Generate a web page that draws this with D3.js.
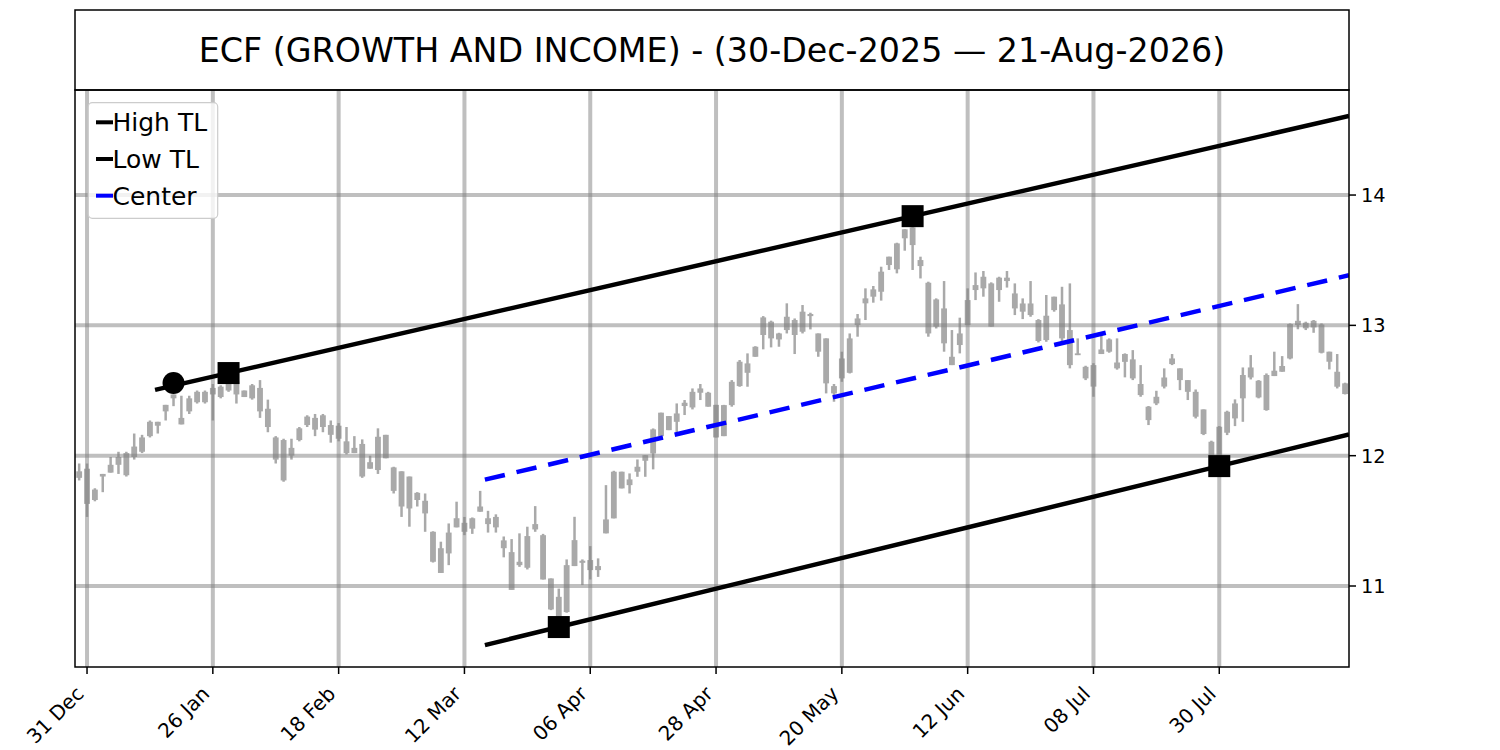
<!DOCTYPE html>
<html>
<head>
<meta charset="utf-8">
<script src="https://cdn.jsdelivr.net/npm/d3@7/dist/d3.min.js"></script>
<style>
  body { margin: 0; background: #fff; }
  svg { display: block; font-family: "DejaVu Sans", sans-serif; }
</style>
</head>
<body>
<svg id="chart" width="1500" height="750"></svg>
<script>
// ---- data (bar index 0 = 31 Dec 2025, -1 = 30 Dec 2025) ----
const firstIndex = -1;
const open = [
  11.88, 11.90, 11.66, 11.84, 11.87, 11.93, 12.02, 11.99, 12.03, 12.15,
  12.26, 12.34, 12.44, 12.29, 12.34, 12.41, 12.49, 12.47, 12.53, 12.50,
  12.57, 12.45, 12.44, 12.52, 12.36, 12.14, 12.12, 12.00, 12.12, 12.235,
  12.29, 12.22, 12.235, 12.13, 12.11, 12.02, 12.09, 11.90, 11.89, 12.16,
  11.91, 11.88, 11.84, 11.66, 11.654, 11.416, 11.29, 11.25, 11.45, 11.485,
  11.44, 11.57, 11.52, 11.45, 11.35, 11.26, 11.16, 11.14, 11.434, 11.39,
  11.058, 10.917, 10.80, 11.153, 11.194, 11.122, 11.153, 11.404, 11.519, 11.877,
  11.774, 11.877, 11.961, 12.017, 12.15, 12.304, 12.26, 12.381, 12.37, 12.483,
  12.483, 12.39, 12.15, 12.388, 12.534, 12.708, 12.759, 12.926, 13.028, 12.892,
  12.964, 13.041, 12.951, 13.087, 12.938, 12.90, 12.534, 12.593, 12.636, 13.002,
  13.169, 13.22, 13.258, 13.463, 13.43, 13.668, 13.752, 13.501, 13.327, 12.99,
  13.13, 12.759, 12.849, 13.002, 13.271, 13.284, 13.322, 13.271, 13.366, 13.245,
  13.105, 13.168, 13.041, 12.887, 13.117, 13.161, 12.964, 12.772, 12.682, 12.53,
  12.78, 12.798, 12.715, 12.72, 12.739, 12.55, 12.376, 12.401, 12.53, 12.703,
  12.67, 12.58, 12.49, 12.355, 12.107, 11.99, 12.176, 12.286, 12.44, 12.6,
  12.575, 12.35, 12.611, 12.644, 12.746, 13.002, 13.02, 12.984, 13.007, 12.798,
  12.644, 12.473
];
const high = [
  11.94, 11.94, 11.75, 11.86, 11.99, 12.03, 12.03, 12.17, 12.16, 12.27,
  12.26, 12.39, 12.47, 12.46, 12.46, 12.50, 12.50, 12.55, 12.54, 12.56,
  12.61, 12.50, 12.55, 12.58, 12.43, 12.15, 12.13, 12.13, 12.22, 12.31,
  12.32, 12.32, 12.27, 12.25, 12.22, 12.15, 12.125, 12.00, 12.21, 12.16,
  11.915, 11.88, 11.84, 11.72, 11.71, 11.42, 11.34, 11.48, 11.647, 11.53,
  11.526, 11.73, 11.577, 11.55, 11.38, 11.36, 11.404, 11.455, 11.613, 11.40,
  11.058, 10.98, 11.204, 11.531, 11.204, 11.306, 11.212, 11.774, 11.884, 11.877,
  11.864, 11.971, 12.004, 12.209, 12.33, 12.304, 12.401, 12.427, 12.516, 12.55,
  12.49, 12.39, 12.39, 12.58, 12.734, 12.785, 12.84, 13.071, 13.036, 12.943,
  13.169, 13.053, 13.156, 13.097, 12.938, 12.90, 12.55, 12.798, 12.938, 13.087,
  13.284, 13.302, 13.45, 13.527, 13.634, 13.737, 13.757, 13.527, 13.335, 13.207,
  13.34, 12.964, 13.059, 13.284, 13.406, 13.417, 13.33, 13.373, 13.417, 13.322,
  13.207, 13.34, 13.048, 13.233, 13.22, 13.296, 13.322, 12.90, 12.69, 12.71,
  12.933, 12.90, 12.90, 12.785, 12.81, 12.695, 12.381, 12.498, 12.67, 12.78,
  12.67, 12.58, 12.508, 12.355, 12.115, 12.227, 12.345, 12.432, 12.677, 12.772,
  12.58, 12.631, 12.798, 12.764, 13.015, 13.163, 13.028, 13.041, 13.015, 12.798,
  12.78, 12.56
];
const low = [
  11.81, 11.53, 11.65, 11.72, 11.87, 11.86, 11.84, 11.97, 12.02, 12.14,
  12.17, 12.27, 12.38, 12.24, 12.32, 12.40, 12.40, 12.27, 12.44, 12.49,
  12.40, 12.45, 12.43, 12.29, 12.18, 11.94, 11.80, 11.97, 12.11, 12.22,
  12.15, 12.18, 12.10, 12.11, 12.01, 12.02, 11.83, 11.90, 11.86, 11.98,
  11.71, 11.53, 11.455, 11.61, 11.416, 11.18, 11.10, 11.16, 11.45, 11.39,
  11.40, 11.57, 11.41, 11.41, 11.22, 10.97, 11.147, 11.127, 11.416, 11.05,
  10.815, 10.764, 10.795, 11.153, 11.007, 11.05, 11.07, 11.404, 11.519, 11.749,
  11.71, 11.838, 11.838, 11.895, 12.15, 12.196, 12.176, 12.312, 12.355, 12.427,
  12.376, 12.14, 12.15, 12.376, 12.529, 12.529, 12.759, 12.816, 12.831, 12.836,
  12.938, 12.78, 12.938, 12.969, 12.759, 12.478, 12.414, 12.567, 12.631, 12.913,
  13.041, 13.174, 13.19, 13.425, 13.399, 13.573, 13.425, 13.36, 12.913, 12.976,
  12.798, 12.695, 12.785, 13.002, 13.194, 13.22, 12.99, 13.181, 13.29, 13.079,
  13.048, 13.066, 12.869, 12.874, 13.105, 12.87, 12.67, 12.772, 12.58, 12.452,
  12.78, 12.79, 12.66, 12.601, 12.58, 12.452, 12.235, 12.388, 12.516, 12.695,
  12.503, 12.427, 12.286, 12.158, 12.00, 11.92, 12.158, 12.227, 12.26, 12.585,
  12.44, 12.345, 12.611, 12.644, 12.739, 12.97, 12.964, 12.943, 12.785, 12.662,
  12.516, 12.47
];
const close = [
  11.83, 11.63, 11.74, 11.86, 11.93, 11.99, 11.85, 12.07, 12.14, 12.26,
  12.23, 12.39, 12.47, 12.24, 12.44, 12.49, 12.41, 12.52, 12.45, 12.55,
  12.47, 12.50, 12.54, 12.34, 12.22, 11.97, 11.81, 12.06, 12.21, 12.30,
  12.20, 12.31, 12.16, 12.23, 12.02, 12.06, 11.84, 11.95, 12.145, 11.98,
  11.73, 11.61, 11.595, 11.715, 11.557, 11.186, 11.10, 11.41, 11.52, 11.416,
  11.52, 11.61, 11.475, 11.53, 11.29, 10.97, 11.186, 11.383, 11.475, 11.05,
  10.82, 10.764, 11.16, 11.352, 11.178, 11.199, 11.122, 11.511, 11.877, 11.749,
  11.818, 11.915, 12.004, 12.202, 12.33, 12.196, 12.324, 12.406, 12.49, 12.516,
  12.376, 12.14, 12.388, 12.567, 12.721, 12.636, 12.836, 13.061, 12.90, 12.938,
  13.066, 12.926, 13.105, 13.071, 12.798, 12.555, 12.478, 12.746, 12.90, 13.053,
  13.207, 13.276, 13.412, 13.527, 13.629, 13.737, 13.616, 13.455, 12.938, 13.199,
  12.862, 12.695, 12.938, 13.194, 13.309, 13.373, 12.99, 13.366, 13.34, 13.13,
  13.168, 13.079, 12.88, 13.074, 13.22, 12.90, 12.695, 12.785, 12.593, 12.695,
  12.815, 12.892, 12.67, 12.78, 12.593, 12.465, 12.273, 12.452, 12.6, 12.746,
  12.58, 12.49, 12.299, 12.166, 12.004, 12.222, 12.337, 12.401, 12.619, 12.677,
  12.447, 12.619, 12.652, 12.688, 13.01, 13.035, 12.977, 13.035, 12.79, 12.721,
  12.529, 12.555
];

const tickLabels = ["31 Dec", "26 Jan", "18 Feb", "12 Mar", "06 Apr", "28 Apr",
                    "20 May", "12 Jun", "08 Jul", "30 Jul"];
const tickStep = 16;
const yTicks = [11, 12, 13, 14];

// trend line pivots [bar index, price]
const highPivots = [[18, 12.634], [105, 13.838]];
const highExtra = [11, 12.557];          // circle marker
const lowPivots = [[60, 10.685], [144, 11.920]];
const highStart = 8.65, lowStart = 50.6;

const title = "ECF (GROWTH AND INCOME) - (30-Dec-2025 \u2014 21-Aug-2026)";

// ---- layout ----
const L = 75, R = 1349, T = 90, B = 667, titleTop = 10;
const svg = d3.select("#chart");

const x = d3.scaleLinear().domain([-1.53, 160.5]).range([L, R]);
const y = d3.scaleLinear().domain([10.3785, 14.806]).range([B, T]);
const step = x(1) - x(0);

const bars = open.map((o, k) => ({
  i: firstIndex + k, o: o, h: high[k], l: low[k], c: close[k]
}));

svg.append("defs").append("clipPath").attr("id", "plotclip")
  .append("rect").attr("x", L).attr("y", T).attr("width", R - L).attr("height", B - T);

const plot = svg.append("g").attr("clip-path", "url(#plotclip)");

// candles (all same grey)
const candle = plot.append("g").attr("fill", "#a9a9a9").attr("stroke", "none");
candle.selectAll("rect.wick").data(bars).enter().append("rect")
  .attr("class", "wick")
  .attr("x", d => x(d.i) - 1.25)
  .attr("width", 2.5)
  .attr("y", d => y(d.h))
  .attr("height", d => y(d.l) - y(d.h));
candle.selectAll("rect.body").data(bars).enter().append("rect")
  .attr("class", "body")
  .attr("x", d => x(d.i) - step * 0.37)
  .attr("width", step * 0.74)
  .attr("y", d => y(Math.max(d.o, d.c)))
  .attr("height", d => Math.max(1.8, y(Math.min(d.o, d.c)) - y(Math.max(d.o, d.c))));

// grid
const tickIdx = tickLabels.map((t, k) => k * tickStep);
const grid = plot.append("g").attr("stroke", "#808080").attr("stroke-opacity", 0.5)
  .attr("stroke-width", 4);
grid.selectAll("line.v").data(tickIdx).enter().append("line")
  .attr("x1", d => x(d)).attr("x2", d => x(d)).attr("y1", T).attr("y2", B);
grid.selectAll("line.h").data(yTicks).enter().append("line")
  .attr("x1", L).attr("x2", R).attr("y1", d => y(d)).attr("y2", d => y(d));

// trend lines
function lineAt(p, i) {
  const s = (p[1][1] - p[0][1]) / (p[1][0] - p[0][0]);
  return p[0][1] + s * (i - p[0][0]);
}
const xEnd = x.domain()[1];
plot.append("line")
  .attr("x1", x(highStart)).attr("y1", y(lineAt(highPivots, highStart)))
  .attr("x2", x(xEnd)).attr("y2", y(lineAt(highPivots, xEnd)))
  .attr("stroke", "#000").attr("stroke-width", 4.5);
plot.append("line")
  .attr("x1", x(lowStart)).attr("y1", y(lineAt(lowPivots, lowStart)))
  .attr("x2", x(xEnd)).attr("y2", y(lineAt(lowPivots, xEnd)))
  .attr("stroke", "#000").attr("stroke-width", 4.5);
const mid = i => (lineAt(highPivots, i) + lineAt(lowPivots, i)) / 2;
plot.append("line")
  .attr("x1", x(lowStart)).attr("y1", y(mid(lowStart)))
  .attr("x2", x(xEnd)).attr("y2", y(mid(xEnd)))
  .attr("stroke", "#0000ff").attr("stroke-width", 4.5)
  .attr("stroke-dasharray", "20.5,12");

// markers
const sq = 22;
plot.selectAll("rect.pivot").data(highPivots.concat(lowPivots)).enter().append("rect")
  .attr("x", d => x(d[0]) - sq / 2).attr("y", d => y(d[1]) - sq / 2)
  .attr("width", sq).attr("height", sq).attr("fill", "#000");
plot.append("circle").attr("cx", x(highExtra[0])).attr("cy", y(highExtra[1]))
  .attr("r", 11).attr("fill", "#000");

// frames
svg.append("rect").attr("x", L).attr("y", T).attr("width", R - L).attr("height", B - T)
  .attr("fill", "none").attr("stroke", "#000").attr("stroke-width", 1.5);
svg.append("rect").attr("x", L).attr("y", titleTop).attr("width", R - L).attr("height", T - titleTop)
  .attr("fill", "none").attr("stroke", "#000").attr("stroke-width", 1.5);
svg.append("text").attr("x", (L + R) / 2).attr("y", (titleTop + T) / 2).attr("dy", "0.36em")
  .attr("text-anchor", "middle").attr("font-size", 33.3).attr("fill", "#000").text(title);

// x axis ticks
const xt = svg.append("g");
xt.selectAll("line").data(tickIdx).enter().append("line")
  .attr("x1", d => x(d)).attr("x2", d => x(d)).attr("y1", B).attr("y2", B + 7)
  .attr("stroke", "#000").attr("stroke-width", 1.5);
xt.selectAll("text").data(tickIdx).enter().append("text")
  .attr("transform", d => `translate(${x(d) - 2},${B + 28}) rotate(-45)`)
  .attr("text-anchor", "end").attr("font-size", 20).attr("fill", "#000")
  .text((d, k) => tickLabels[k]);

// y axis on the right
const yt = svg.append("g");
yt.selectAll("line").data(yTicks).enter().append("line")
  .attr("x1", R).attr("x2", R + 7).attr("y1", d => y(d)).attr("y2", d => y(d))
  .attr("stroke", "#000").attr("stroke-width", 1.5);
yt.selectAll("text").data(yTicks).enter().append("text")
  .attr("x", R + 12).attr("y", d => y(d)).attr("dy", "0.36em")
  .attr("font-size", 19.4).attr("fill", "#000").text(d => d);

// legend
const legendItems = [
  { label: "High TL", color: "#000" },
  { label: "Low TL", color: "#000" },
  { label: "Center", color: "#0000ff" }
];
const lg = svg.append("g");
lg.append("rect").attr("x", 88.3).attr("y", 102.7).attr("width", 129.4).attr("height", 115.6)
  .attr("rx", 4).attr("fill", "#fff").attr("fill-opacity", 0.8)
  .attr("stroke", "#cccccc").attr("stroke-width", 1.2);
const row = lg.selectAll("g.row").data(legendItems).enter().append("g")
  .attr("transform", (d, k) => `translate(0,${122.3 + k * 36.7})`);
row.append("line").attr("x1", 96).attr("x2", 113).attr("y1", 0).attr("y2", 0)
  .attr("stroke", d => d.color).attr("stroke-width", 4);
row.append("text").attr("x", 112.5).attr("y", 0).attr("dy", "0.36em")
  .attr("font-size", 25).attr("fill", "#000").text(d => d.label);
</script>
</body>
</html>
